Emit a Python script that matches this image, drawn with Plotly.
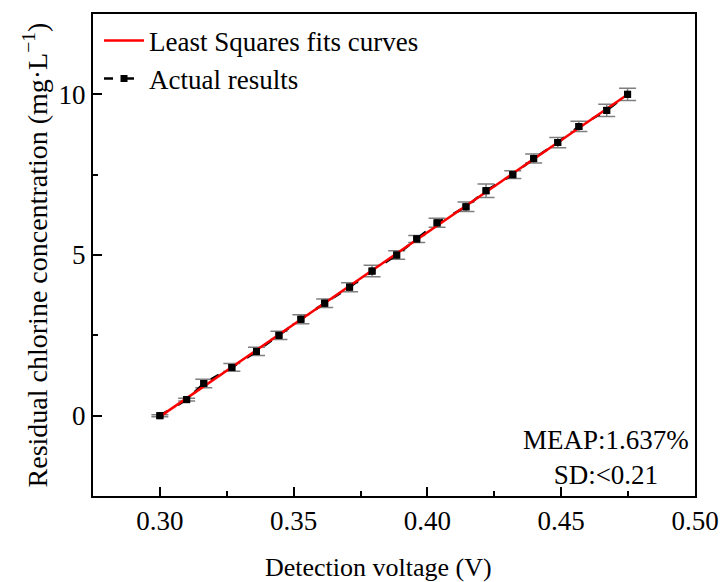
import numpy as np
import plotly.graph_objects as go

voltage = [0.3000, 0.3100, 0.3164, 0.3269, 0.3361, 0.3445, 0.3527, 0.3616, 0.3709, 0.3793,
           0.3885, 0.3960, 0.4036, 0.4144, 0.4219, 0.4319, 0.4397, 0.4487, 0.4566, 0.4670, 0.4748]
concentration = [0.0, 0.5, 1.0, 1.5, 2.0, 2.5, 3.0, 3.5, 4.0, 4.5,
                 5.0, 5.5, 6.0, 6.5, 7.0, 7.5, 8.0, 8.5, 9.0, 9.5, 10.0]
error = [0.03, 0.04, 0.13, 0.12, 0.13, 0.13, 0.14, 0.13, 0.14, 0.18,
         0.13, 0.11, 0.14, 0.15, 0.21, 0.12, 0.14, 0.16, 0.16, 0.19, 0.19]

coef = np.polyfit(voltage, concentration, 1)
fit_x = np.array([min(voltage), max(voltage)])
fit_y = np.polyval(coef, fit_x)

FONT = "Liberation Serif, Times New Roman, serif"

fig = go.Figure()
fig.add_trace(go.Scatter(
    x=voltage, y=concentration, mode="lines+markers", name="Actual results",
    line=dict(color="black", width=2.5, dash="9px,12px"),
    marker=dict(symbol="square", size=7, color="black"),
    error_y=dict(type="data", array=error, visible=True, color="#7f7f7f", thickness=1.5, width=8.5),
    legendrank=2,
))
fig.add_trace(go.Scatter(
    x=fit_x, y=fit_y, mode="lines", name="Least Squares fits curves",
    line=dict(color="#ff0000", width=2.5), legendrank=1,
))
fig.add_trace(go.Scatter(
    x=voltage, y=concentration, mode="markers", showlegend=False,
    marker=dict(symbol="square", size=7, color="black"), hoverinfo="skip",
))

axis_common = dict(
    showline=True, linecolor="black", linewidth=2, mirror=True,
    ticks="inside", ticklen=9, tickwidth=1.5, tickcolor="black",
    showgrid=False, zeroline=False, automargin=False,
    tickfont=dict(family=FONT, size=27, color="black"),
)
fig.update_xaxes(
    range=[0.275, 0.50], tickvals=[0.30, 0.35, 0.40, 0.45, 0.50],
    ticktext=["0.30", "0.35", "0.40", "0.45", "0.50"],
    minor=dict(tickvals=[0.325, 0.375, 0.425, 0.475], ticks="inside", ticklen=5, tickwidth=1.5, tickcolor="black"),
    **axis_common,
)
fig.update_yaxes(
    range=[-2.5, 12.5], tickvals=[0, 5, 10],
    minor=dict(tickvals=[2.5, 7.5], ticks="inside", ticklen=5, tickwidth=1.5, tickcolor="black"),
    title=dict(text="Residual chlorine concentration (mg·L<sup>−1</sup>)", font=dict(family=FONT, size=28, color="black"), standoff=3),
    **axis_common,
)

fig.add_annotation(
    x=0.475, y=-0.148, xref="paper", yref="paper", showarrow=False,
    text="Detection voltage (V)", font=dict(family=FONT, size=26, color="black"),
    xanchor="center", yanchor="middle",
)
fig.add_annotation(
    x=0.852, y=0.08, xref="paper", yref="paper", showarrow=False, align="center",
    text="MEAP:1.637%<br>SD:<0.21", font=dict(family=FONT, size=27, color="black"),
    xanchor="center", yanchor="middle",
)

fig.update_layout(
    width=721, height=582,
    margin=dict(l=93, r=26, t=14, b=86),
    plot_bgcolor="white", paper_bgcolor="white",
    legend=dict(x=0.01, y=0.995, xanchor="left", yanchor="top", bgcolor="rgba(0,0,0,0)",
                font=dict(family=FONT, size=27, color="black"), tracegroupgap=0, itemwidth=40),
    showlegend=True,
)

fig.write_html("out.html")
